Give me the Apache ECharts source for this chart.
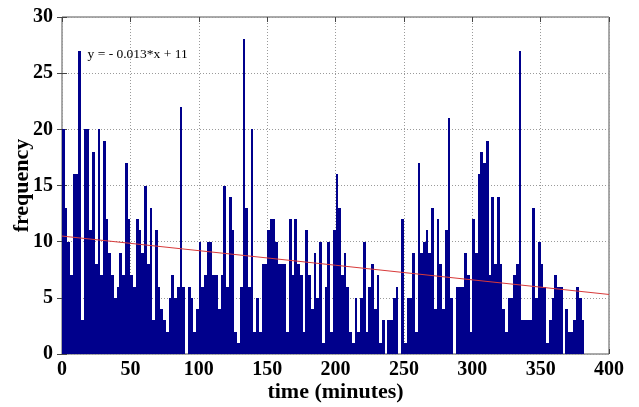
<!DOCTYPE html>
<html>
<head>
<meta charset="utf-8">
<script src="https://cdn.jsdelivr.net/npm/echarts@6/dist/echarts.min.js"></script>
<style>
  html, body { margin: 0; padding: 0; background: #fff; }
  #chart { width: 639px; height: 407px; }
</style>
</head>
<body>
<div id="chart"></div>
<script>
// Histogram of arrivals per 2-minute bin, starting at t = 0
const binWidth = 2;
const counts = [
  20, 13, 10, 7, 16, 16, 27, 3, 20, 20,
  11, 18, 8, 20, 7, 19, 12, 9, 7, 5,
  6, 9, 7, 17, 12, 7, 6, 12, 11, 9,
  15, 8, 13, 3, 11, 6, 4, 3, 2, 5,
  7, 5, 6, 22, 6, 0, 6, 5, 2, 4,
  10, 6, 7, 10, 10, 7, 7, 4, 7, 15,
  6, 14, 11, 2, 1, 6, 28, 13, 6, 20,
  2, 5, 2, 8, 8, 11, 12, 12, 10, 8,
  8, 8, 2, 12, 7, 12, 8, 7, 2, 11,
  7, 4, 9, 5, 10, 1, 6, 10, 2, 11,
  16, 13, 7, 9, 6, 2, 1, 5, 2, 5,
  10, 2, 6, 8, 4, 7, 1, 3, 0, 3,
  3, 5, 6, 0, 12, 1, 5, 5, 9, 2,
  17, 9, 10, 11, 9, 13, 4, 12, 8, 4,
  11, 21, 5, 0, 6, 6, 6, 9, 7, 2,
  12, 9, 16, 18, 17, 19, 7, 14, 8, 14,
  8, 4, 2, 5, 5, 7, 8, 27, 3, 3,
  3, 3, 13, 5, 10, 8, 6, 1, 3, 5,
  7, 6, 6, 0, 4, 2, 2, 3, 6, 5,
  3
];

// Axis ranges and tick steps
const xMax = 400, xStep = 50;
const yMax = 30, yStep = 5;

// Linear trend fitted to the counts
const fitSlope = -0.013;
const fitIntercept = 10.5;
const fitLabel = 'y = - 0.013*x + 11';

// One category per bin across the full 0-400 span
const nBins = xMax / binWidth;
const binCentres = [];
for (let i = 0; i < nBins; i++) binCentres.push(i * binWidth + binWidth / 2);
const barData = counts.map((c, i) => [i, c]);
const fitLine = [0, xMax].map(x => [x, fitSlope * x + fitIntercept]);

const serif = '"Liberation Serif", "Times New Roman", serif';
const barColor = '#00008c';
const tickLabel = { fontFamily: serif, fontWeight: 'bold', fontSize: 20, color: '#000' };
const titleText = { fontFamily: serif, fontWeight: 'bold', fontSize: 22, color: '#000' };
const gridLine = { show: true, lineStyle: { type: [1, 2], color: '#9a9a9a', width: 1 } };
const innerTick = { show: true, inside: true, length: 5, lineStyle: { color: '#444' } };

// Histogram bars: each bin fills its whole band, snapped to whole pixels
function renderBin(params, api) {
  const idx = api.value(0);
  const base = api.coord([idx, 0]);
  const top = api.coord([idx, api.value(1)]);
  const band = api.size([1, 0])[0];
  const x0 = Math.round(base[0] - band / 2);
  const x1 = Math.round(base[0] + band / 2);
  const y0 = Math.round(top[1]);
  const y1 = Math.round(base[1]);
  return {
    type: 'rect',
    shape: { x: x0, y: y0, width: x1 - x0, height: y1 - y0 },
    style: { fill: barColor }
  };
}

const chart = echarts.init(document.getElementById('chart'), null, { renderer: 'canvas' });
chart.setOption({
  animation: false,
  backgroundColor: '#fff',
  grid: {
    left: 62, right: 30, top: 17, bottom: 53,
    outerBoundsMode: 'none', containLabel: false,
    show: true, borderColor: '#555', borderWidth: 1, backgroundColor: 'transparent'
  },
  xAxis: [
    { type: 'category', data: binCentres, boundaryGap: true, show: false },
    {
      type: 'value', min: 0, max: xMax, interval: xStep, position: 'bottom',
      axisLine: { show: false }, axisTick: innerTick, splitLine: gridLine,
      axisLabel: Object.assign({ margin: 6 }, tickLabel),
      name: 'time (minutes)', nameLocation: 'middle', nameGap: 27, nameMoveOverlap: false,
      nameTextStyle: titleText
    },
    {
      type: 'value', min: 0, max: xMax, interval: xStep, position: 'top',
      axisLine: { show: false }, axisTick: innerTick, splitLine: { show: false }, axisLabel: { show: false }
    }
  ],
  yAxis: [
    {
      type: 'value', min: 0, max: yMax, interval: yStep, position: 'left',
      axisLine: { show: false }, axisTick: innerTick, splitLine: gridLine,
      axisLabel: Object.assign({ margin: 9 }, tickLabel),
      name: 'frequency', nameLocation: 'middle', nameGap: 29, nameRotate: 90, nameMoveOverlap: false,
      nameTextStyle: titleText
    },
    {
      type: 'value', min: 0, max: yMax, interval: yStep, position: 'right',
      axisLine: { show: false }, axisTick: innerTick, splitLine: { show: false }, axisLabel: { show: false }
    }
  ],
  series: [
    {
      type: 'custom', xAxisIndex: 0, yAxisIndex: 0, data: barData,
      encode: { x: 0, y: 1 }, renderItem: renderBin, silent: true
    },
    {
      type: 'line', xAxisIndex: 1, yAxisIndex: 0, data: fitLine,
      symbol: 'none', lineStyle: { color: '#d83a3a', width: 1 }, silent: true, z: 5,
      markPoint: {
        symbol: 'rect', symbolSize: 0,
        data: [{ coord: [15, 26.7], value: fitLabel }],
        label: { show: true, position: 'right', formatter: fitLabel, fontFamily: serif, fontSize: 13.5, color: '#000' }
      }
    }
  ]
});
</script>
</body>
</html>
